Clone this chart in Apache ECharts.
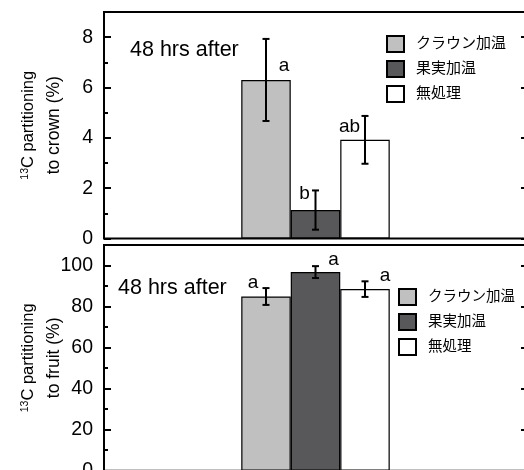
<!DOCTYPE html>
<html><head><meta charset="utf-8">
<script src="https://cdn.jsdelivr.net/npm/echarts@6/dist/echarts.min.js"></script>
<style>html,body{margin:0;padding:0;background:#fff}#c{width:524px;height:470px}</style>
</head><body><div id="c"></div>
<script>
// ---- data ----
const categories = [''];
const treatments = ['クラウン加温', '果実加温', '無処理'];
const crownMean = [6.3, 1.13, 3.92];
const crownErr = [1.63, 0.78, 0.95];
const crownLetters = ['a', 'b', 'ab'];
const fruitMean = [84.9, 96.8, 88.5];
const fruitErr = [4.1, 2.9, 3.8];
const fruitLetters = ['a', 'a', 'a'];
const crownAxis = { min: 0, max: 9, interval: 2, minor: 1 };
const fruitAxis = { min: 0, max: 110, interval: 20, minor: 10 };
const panelTitle = '48 hrs after';
const crownName = '{sup|13}{n|C partitioning}\n{m|to crown (%)}';
const fruitName = '{sup|13}{n|C partitioning}\n{m|to fruit (%)}';

// ---- styles ----
const FONT = "'Liberation Sans', Arial, 'Noto Sans CJK JP', sans-serif";
const colors = ['#c0c0c0', '#58585a', '#ffffff'];
const BAR_W = 49.5;
const letterOffsets = [
  [[18, -5], [-11, -7], [-15.5, -4]],
  [[-13, -4], [18, -3], [20, -3.5]]
];

const panels = [
  { mean: crownMean, err: crownErr, letters: crownLetters, axis: crownAxis, name: crownName, legendFont: 15,
    grid: { left: 104, top: 12, width: 423, height: 226.5 }, legend: { left: 386, top: 35 }, title: [130, 50] },
  { mean: fruitMean, err: fruitErr, letters: fruitLetters, axis: fruitAxis, name: fruitName, legendFont: 14.5,
    grid: { left: 104, top: 245, width: 423, height: 225.7 }, legend: { left: 398, top: 288 }, title: [118, 288.5] }
];

const grids = [], xAxes = [], yAxes = [], series = [], legends = [], graphics = [];
panels.forEach((p, pi) => {
  grids.push(Object.assign({ show: true, borderColor: '#000', borderWidth: 2, backgroundColor: 'transparent',
    containLabel: false, outerBoundsMode: 'none' }, p.grid));
  xAxes.push({ type: 'category', gridIndex: pi, data: categories, axisLine: { show: false },
    axisTick: { show: false }, axisLabel: { show: false }, splitLine: { show: false } });
  const base = { type: 'value', gridIndex: pi, min: p.axis.min, max: p.axis.max, splitLine: { show: false },
    axisLine: { show: false } };
  yAxes.push(Object.assign({}, base, {
    position: 'left', interval: p.axis.interval,
    axisTick: { show: true, inside: true, length: 7, lineStyle: { color: '#000', width: 2 } },
    axisLabel: { show: true, showMaxLabel: false, margin: 11, fontSize: 19.5, color: '#000', fontFamily: FONT },
    name: p.name, nameLocation: 'middle', nameGap: 37, nameMoveOverlap: false,
    nameTextStyle: { color: '#000', fontFamily: FONT, fontSize: 16.5, lineHeight: 26, align: 'center',
      rich: {
        n: { fontSize: 16.5, lineHeight: 26, fontFamily: FONT, color: '#000' },
        m: { fontSize: 17.5, lineHeight: 26, fontFamily: FONT, color: '#000' },
        sup: { fontSize: 10.5, lineHeight: 10, fontFamily: FONT, color: '#000', verticalAlign: 'top', padding: [5, 0, 0, 0] }
      } }
  }));
  yAxes.push(Object.assign({}, base, {
    position: 'left', interval: p.axis.minor,
    axisTick: { show: true, inside: true, length: 4, lineStyle: { color: '#000', width: 2 } },
    axisLabel: { show: false }
  }));
  yAxes.push(Object.assign({}, base, {
    position: 'right', interval: p.axis.interval,
    axisTick: { show: true, inside: true, length: 6, lineStyle: { color: '#000', width: 2 } },
    axisLabel: { show: false }
  }));
  treatments.forEach((t, ti) => {
    series.push({
      type: 'bar', name: t, xAxisIndex: pi, yAxisIndex: pi * 3,
      barWidth: BAR_W, barGap: '0%',
      itemStyle: { color: colors[ti], borderColor: '#000', borderWidth: 1.2 },
      label: { show: true, position: 'top', distance: 0, fontSize: 19, lineHeight: 19, color: '#000', fontFamily: FONT },
      data: [{ value: p.mean[ti], label: { formatter: p.letters[ti], offset: letterOffsets[pi][ti] } }],
      z: 2
    });
  });
  series.push({
    type: 'custom', name: 'err' + pi, xAxisIndex: pi, yAxisIndex: pi * 3, z: 5,
    encode: { x: 0, y: 1 },
    data: treatments.map((t, ti) => [0, p.mean[ti], p.err[ti], ti]),
    renderItem: function (params, api) {
      const m = api.value(1), e = api.value(2), ti = api.value(3);
      const c = api.coord([0, m]);
      const x = c[0] + (ti - 1) * BAR_W;
      const y1 = api.coord([0, m + e])[1], y0 = api.coord([0, m - e])[1];
      const hw = 3.5, st = { stroke: '#000', lineWidth: 2 };
      return { type: 'group', children: [
        { type: 'line', shape: { x1: x, y1: y1, x2: x, y2: y0 }, style: st },
        { type: 'line', shape: { x1: x - hw, y1: y1, x2: x + hw, y2: y1 }, style: st },
        { type: 'line', shape: { x1: x - hw, y1: y0, x2: x + hw, y2: y0 }, style: st }
      ] };
    }
  });
  legends.push(Object.assign({
    orient: 'vertical', padding: 0, itemWidth: 17, itemHeight: 16, itemGap: 7, icon: 'rect',
    data: treatments, selectedMode: false,
    textStyle: { fontSize: p.legendFont, color: '#000', fontFamily: FONT, padding: [0, 0, 0, 7] }
  }, p.legend));
  graphics.push({ type: 'text', x: p.title[0], y: p.title[1], silent: true,
    style: { text: panelTitle, fontSize: 21.5, fontFamily: FONT, fill: '#000', verticalAlign: 'middle', align: 'left' } });
});

const chart = echarts.init(document.getElementById('c'), null, { renderer: 'canvas' });
chart.setOption({
  animation: false,
  backgroundColor: '#fff',
  grid: grids, xAxis: xAxes, yAxis: yAxes, series: series, legend: legends, graphic: graphics
});
</script></body></html>
